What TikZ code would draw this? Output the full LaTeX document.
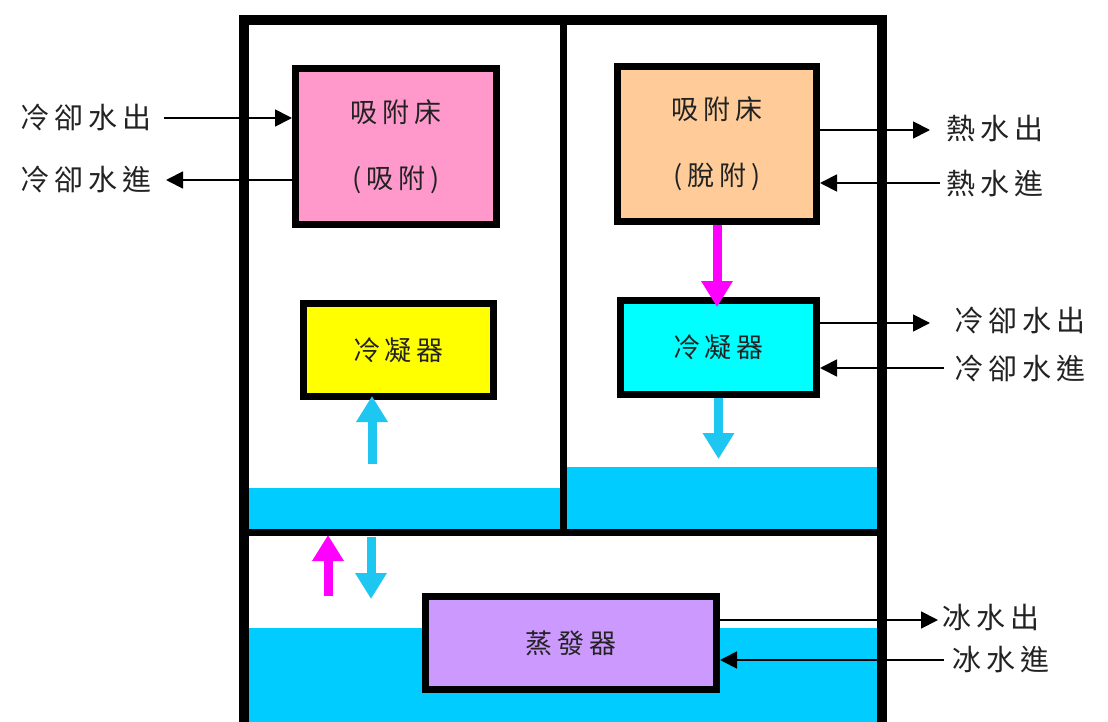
\documentclass[tikz,border=0pt]{standalone}
\usepackage{fontspec}
\setmainfont{Noto Sans CJK TC}
\newfontfamily\cjklbl[LetterSpace=18]{Noto Sans CJK TC}
\usetikzlibrary{arrows.meta}
\definecolor{pinkbox}{HTML}{FF99CC}
\definecolor{orangebox}{HTML}{FFCC99}
\definecolor{yellowbox}{HTML}{FFFF00}
\definecolor{cyanbox}{HTML}{00FFFF}
\definecolor{purplebox}{HTML}{CC99FF}
\definecolor{water}{HTML}{00CCFF}
\definecolor{vapour}{HTML}{1EC6F2}
\definecolor{magentaflow}{HTML}{FF00FF}
\definecolor{inkc}{HTML}{222222}
\tikzset{
  unit/.style={draw=black, line width=7pt, inner sep=0pt, text=inkc,
    font=\cjklbl\fontsize{27}{66}\selectfont, align=center},
  lbl/.style={inner sep=4pt, text=inkc, font=\cjklbl\fontsize{29}{34}\selectfont},
  flow/.style={draw=black, line width=1.8pt, -{Triangle[length=17pt,width=17pt]}},
  bigarrow/.style={line width=9pt, -{Triangle[length=26pt,width=30pt]}},
  frame/.style={draw=black, line width=10pt},
  divider/.style={draw=black, line width=7pt}
}
\begin{document}
\begin{tikzpicture}[x=1pt,y=-1pt]
\useasboundingbox (0,0) rectangle (1108,722);
\clip (0,0) rectangle (1108,722);
% water
\fill[water] (245,488) rectangle (563,532);
\fill[water] (563,467) rectangle (882,532);
\fill[water] (245,628) rectangle (882,730);
% frame
\draw[frame] (244,740) -- (244,20) -- (882,20) -- (882,740);
\draw[divider] (244,532) -- (882,532);
\draw[divider] (563,20) -- (563,532);
% units
\node[unit, fill=pinkbox, minimum width=201pt, minimum height=156pt] (pink) at (396,146.5) {吸附床\\(吸附)};
\node[unit, fill=orangebox, minimum width=199pt, minimum height=155pt] (orange) at (717,144) {吸附床\\(脫附)};
\node[unit, fill=yellowbox, minimum width=190pt, minimum height=93pt] (yellow) at (398.5,350) {冷凝器};
\node[unit, fill=cyanbox, minimum width=196pt, minimum height=94pt] (cyan) at (718.5,347.5) {冷凝器};
\node[unit, fill=purplebox, minimum width=291pt, minimum height=93pt] (purple) at (571,643) {蒸發器};
% labels
\node[lbl, anchor=east] (lcwo) at (156,118) {冷卻水出};
\node[lbl, anchor=east] (lcwi) at (156,180) {冷卻水進};
\node[lbl, anchor=west] (lhwo) at (942,128) {熱水出};
\node[lbl, anchor=west] (lhwi) at (942,184) {熱水進};
\node[lbl, anchor=west] (rcwo) at (950,321) {冷卻水出};
\node[lbl, anchor=west] (rcwi) at (950,369) {冷卻水進};
\node[lbl, anchor=west] (icwo) at (938,618) {冰水出};
\node[lbl, anchor=west] (icwi) at (948,660) {冰水進};
% thin flows
\draw[flow] ([shift={(8pt,0)}]lcwo.east) -- (lcwo.east -| pink.west);
\draw[flow] (pink.west |- lcwi.east) -- ([shift={(10pt,0)}]lcwi.east);
\draw[flow] (orange.east |- 0,130) coordinate (ho1) -- ([shift={(-12pt,0)}]lhwo.west |- ho1);
\draw[flow] ([shift={(-2pt,0)}]lhwi.west |- 0,183) coordinate (hi1) -- (orange.east |- hi1);
\draw[flow] (cyan.east |- 0,323) coordinate (co1) -- ([shift={(-20pt,0)}]rcwo.west |- co1);
\draw[flow] ([shift={(-6pt,0)}]rcwi.west |- 0,368) coordinate (ci1) -- (cyan.east |- ci1);
\draw[flow] (purple.east |- 0,620) coordinate (io1) -- (icwo.west |- io1);
\draw[flow] ([shift={(-4pt,0)}]icwi.west |- 0,660) coordinate (ii1) -- (purple.east |- ii1);
% thick flows
\coordinate (leftpool) at (372,464);
\coordinate (rightpool) at (718.5,459);
\coordinate (magtop) at (328,535);
\coordinate (magbot) at (328,596);
\coordinate (vaptop) at (371,537);
\coordinate (vapbot) at (371,599);
\draw[bigarrow, magentaflow] (orange.south) -- ([yshift=-10pt]orange.south |- cyan.north);
\draw[bigarrow, vapour] (leftpool) -- ([yshift=4pt]leftpool |- yellow.south);
\draw[bigarrow, vapour] (cyan.south) -- (rightpool);
\draw[bigarrow, magentaflow] (magbot) -- (magtop);
\draw[bigarrow, vapour] (vaptop) -- (vapbot);
\end{tikzpicture}
\end{document}
